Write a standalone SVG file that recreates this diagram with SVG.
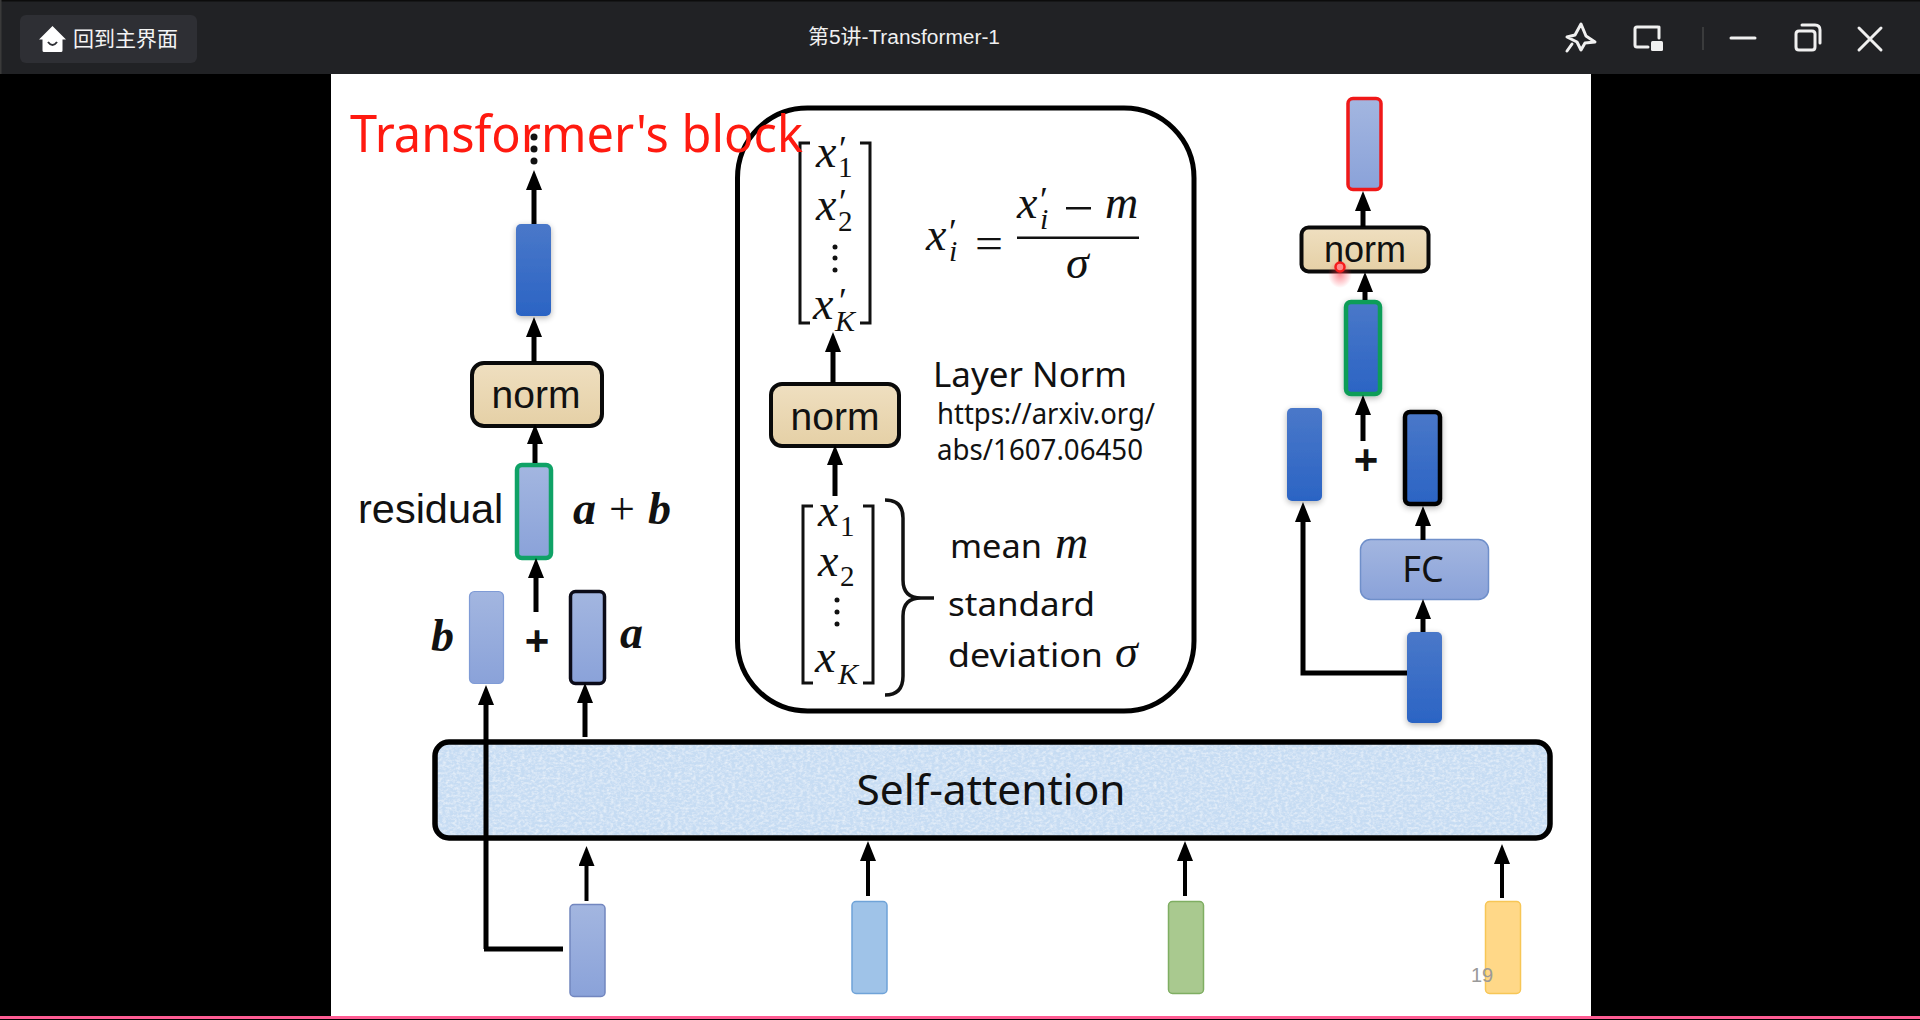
<svg xmlns="http://www.w3.org/2000/svg" width="1920" height="1020" viewBox="0 0 1920 1020">
<style>
.s{font-family:"Noto Sans","Open Sans","Liberation Sans",sans-serif;fill:#111}
.a{font-family:"Liberation Sans",Arial,sans-serif;fill:#111}
.m{font-family:"Liberation Serif",serif;font-style:italic;fill:#111;font-size:46px}
.p{font-family:"Liberation Serif",serif;fill:#111;font-size:36px}
.sub{font-family:"Liberation Serif",serif;fill:#111;font-size:29px}
.subi{font-family:"Liberation Serif",serif;font-style:italic;fill:#111;font-size:30px}
.bm{font-family:"Liberation Serif",serif;font-style:italic;font-weight:700;fill:#111;font-size:46px}
.ln{stroke:#000;stroke-width:5;fill:none}
.ar{stroke:#000;stroke-width:5;fill:none;marker-end:url(#h)}
.ar2{stroke:#000;stroke-width:4;fill:none;marker-end:url(#h)}
.br{stroke:#111;stroke-width:3;fill:none}
.ic{stroke:#f0f0f0;stroke-width:3;fill:none;stroke-linejoin:round;stroke-linecap:round}
.nm{fill:url(#tan);stroke:#0a0a0a;stroke-width:4}
.blue{fill:url(#gb);filter:url(#sh)}
.pale{fill:url(#gp)}
</style>
<defs>
<marker id="h" markerUnits="userSpaceOnUse" viewBox="0 0 20 16" markerWidth="20" markerHeight="16" refX="8" refY="8" orient="auto"><path d="M0 0L20 8L0 16Z" fill="#000"/></marker>
<linearGradient id="gb" x1="0" y1="0" x2="0" y2="1"><stop offset="0" stop-color="#4a78c9"/><stop offset="1" stop-color="#2b64c4"/></linearGradient>
<linearGradient id="gp" x1="0" y1="0" x2="0" y2="1"><stop offset="0" stop-color="#a3b6e0"/><stop offset="1" stop-color="#8aa2d9"/></linearGradient>
<linearGradient id="tan" x1="0" y1="0" x2="0" y2="1"><stop offset="0" stop-color="#efdfc0"/><stop offset="1" stop-color="#e5d0a6"/></linearGradient>
<filter id="sh" x="-30%" y="-10%" width="160%" height="125%"><feGaussianBlur in="SourceAlpha" stdDeviation="3"/><feOffset dy="2"/><feComponentTransfer><feFuncA type="linear" slope="0.3"/></feComponentTransfer><feMerge><feMergeNode/><feMergeNode in="SourceGraphic"/></feMerge></filter>
<filter id="tex" x="0" y="0" width="100%" height="100%"><feTurbulence type="fractalNoise" baseFrequency="0.28 0.4" numOctaves="3" seed="4"/><feColorMatrix values="0 0 0 0 1 0 0 0 0 1 0 0 0 0 1 1.1 0 0 0 -0.42"/><feComposite in2="SourceGraphic" operator="in"/><feMerge><feMergeNode in="SourceGraphic"/><feMergeNode/></feMerge></filter>
<radialGradient id="glow"><stop offset="0" stop-color="#ff3040" stop-opacity=".55"/><stop offset="1" stop-color="#ff3040" stop-opacity="0"/></radialGradient>
</defs>
<rect width="1920" height="1020" fill="#000"/>
<g id="titlebar">
<rect x="0" y="0" width="1920" height="74" fill="#212225"/>
<rect x="0" y="0" width="1920" height="1.5" fill="#0c0c0c"/>
<rect x="0" y="0" width="1.5" height="74" fill="#3a3a3a"/>
<rect x="20" y="15" width="177" height="48" rx="6" fill="#2e2f34"/>
<path d="M52.500 26L66 39.500H62.500V50.500Q62.500 52 61 52H44Q42.500 52 42.500 50.500V39.500H39Z" fill="#fff"/>
<path d="M48 42Q52.500 48 57 42" fill="none" stroke="#2e2f34" stroke-width="2"/>
<text x="73" y="46" font-size="21" fill="#f4f4f4" font-family="'Noto Sans CJK SC',sans-serif">回到主界面</text>
<text x="808" y="44" font-size="20" fill="#f0f0f0" font-family="'Liberation Sans','Noto Sans CJK SC',sans-serif" textLength="192" lengthAdjust="spacingAndGlyphs">第5讲-Transformer-1</text>
<path class="ic" d="M1581 24L1586 36L1595 42L1585 43L1581 50L1577 42L1567 37L1575 35Z M1572 44L1567 51"/>
<path class="ic" d="M1658 27H1637Q1635 27 1635 29V45Q1635 47 1637 47H1648 M1659 27V38"/>
<rect x="1651" y="41" width="12" height="10" rx="1.500" fill="#f0f0f0"/>
<rect x="1702.500" y="27" width="1" height="23" fill="#555"/>
<path class="ic" d="M1731 38H1755"/>
<path class="ic" d="M1799 31H1812Q1815 31 1815 34V47Q1815 50 1812 50H1799Q1796 50 1796 47V34Q1796 31 1799 31Z M1802 25H1815Q1820 25 1820 30V43"/>
<path class="ic" d="M1859 28L1881 50M1881 28L1859 50"/>
</g>
<rect id="slide" x="331" y="74" width="1260" height="942" fill="#fff"/>
<g id="panel">
<rect x="737.500" y="108" width="456.500" height="603" rx="70" fill="#fff" stroke="#000" stroke-width="5"/>
</g>
<g id="attention">
<rect x="435" y="742" width="1115" height="96" rx="14" fill="#c6dcf3" filter="url(#tex)"/>
<rect x="435" y="742" width="1115" height="96" rx="14" fill="none" stroke="#000" stroke-width="5.500"/>
<text class="s" x="991" y="805" font-size="41" text-anchor="middle" textLength="269" lengthAdjust="spacingAndGlyphs">Self-attention</text>
</g>
<g id="left-column">
<g id="left-output"><rect class="blue" x="516" y="224" width="35" height="92" rx="5"/></g>
<g id="left-norm"><rect class="nm" x="472" y="363" width="130" height="63" rx="12"/><text class="a" x="536" y="408" font-size="39" text-anchor="middle">norm</text></g>
<g id="left-residual"><rect class="pale" x="517" y="465" width="34" height="93" rx="5" stroke="#0fa266" stroke-width="4.500"/></g>
<g id="left-b"><rect class="pale" x="469.500" y="591.500" width="34" height="92" rx="5" stroke="#7f9bd6" stroke-width="1.200"/></g>
<g id="left-a"><rect class="pale" x="570.500" y="591.500" width="34" height="92" rx="5" stroke="#0b0b18" stroke-width="3.500"/></g>
<text class="a" x="358" y="523" font-size="41.500">residual</text>
<text class="bm" x="573" y="524">a<tspan font-style="normal" font-weight="400" dx="13">+</tspan><tspan dx="13">b</tspan></text>
<text class="bm" x="431" y="651">b</text>
<text class="bm" x="620" y="648">a</text>
<text x="537" y="655" font-size="42" font-weight="700" text-anchor="middle" font-family="'Liberation Sans',sans-serif" fill="#111">+</text>
<circle cx="534" cy="137" r="3.500" fill="#111"/><circle cx="534" cy="149" r="3.500" fill="#111"/><circle cx="534" cy="161" r="3.500" fill="#111"/>
</g>
<g id="matrix-out">
<path class="br" d="M810 143H800V323H810M860 143H870V323H860"/>
<text class="m" x="816" y="167">x</text><text class="p" x="839" y="161">′</text><text class="sub" x="838" y="177">1</text>
<text class="m" x="816" y="220">x</text><text class="p" x="839" y="214">′</text><text class="sub" x="838" y="231">2</text>
<circle cx="835" cy="247" r="2.500" fill="#111"/><circle cx="835" cy="258" r="2.500" fill="#111"/><circle cx="835" cy="270" r="2.500" fill="#111"/>
<text class="m" x="813" y="319">x</text><text class="p" x="839" y="313">′</text><text class="subi" x="835" y="331">K</text>
</g>
<g id="panel-norm"><rect class="nm" x="771" y="384" width="128" height="62" rx="11"/><text class="a" x="835" y="430" font-size="39" text-anchor="middle">norm</text></g>
<g id="matrix-in">
<path class="br" d="M813 506H803V683H813M863 506H873V683H863"/>
<text class="m" x="818" y="526">x</text><text class="sub" x="840" y="536">1</text>
<text class="m" x="818" y="576">x</text><text class="sub" x="840" y="586">2</text>
<circle cx="837" cy="600" r="2.500" fill="#111"/><circle cx="837" cy="612" r="2.500" fill="#111"/><circle cx="837" cy="624" r="2.500" fill="#111"/>
<text class="m" x="815" y="672">x</text><text class="subi" x="838" y="684">K</text>
<path d="M885 500Q903 500 903 518V580Q903 598 921 598H934M921 598Q903 598 903 616V676Q903 695 885 695" fill="none" stroke="#111" stroke-width="3.500"/>
</g>
<g id="formula">
<text class="m" x="926" y="250">x</text><text class="p" x="949" y="244">′</text><text class="subi" x="949" y="261">i</text>
<text x="975" y="258" font-size="44" font-family="'Liberation Serif',serif" fill="#111" textLength="28" lengthAdjust="spacingAndGlyphs">=</text>
<text class="m" x="1017" y="218">x</text><text class="p" x="1040" y="212">′</text><text class="subi" x="1040" y="229">i</text>
<rect x="1066" y="207" width="25" height="2.500" fill="#111"/>
<text class="m" x="1105" y="218">m</text>
<rect x="1017" y="236.500" width="122" height="2.500" fill="#111"/>
<text class="m" x="1066" y="278">σ</text>
</g>
<g id="panel-text">
<text class="s" x="933" y="387" font-size="35" textLength="194" lengthAdjust="spacingAndGlyphs">Layer Norm</text>
<text class="s" x="937" y="424" font-size="29" textLength="218" lengthAdjust="spacingAndGlyphs">https://arxiv.org/</text>
<text class="s" x="937" y="460" font-size="29" textLength="206" lengthAdjust="spacingAndGlyphs">abs/1607.06450</text>
<text class="s" x="950" y="558" font-size="33" textLength="92" lengthAdjust="spacingAndGlyphs">mean</text>
<text class="m" x="1055" y="558">m</text>
<text class="s" x="948" y="616" font-size="33" textLength="147" lengthAdjust="spacingAndGlyphs">standard</text>
<text class="s" x="948" y="667" font-size="33" textLength="155" lengthAdjust="spacingAndGlyphs">deviation</text>
<text class="m" x="1115" y="667">σ</text>
</g>
<g id="right-column">
<g id="right-output"><rect class="pale" x="1348" y="98.500" width="33" height="91" rx="5" stroke="#f01818" stroke-width="3.500"/></g>
<g id="right-norm"><rect class="nm" x="1301.500" y="227.500" width="127" height="44" rx="7"/><text class="a" x="1365" y="262" font-size="36" text-anchor="middle">norm</text></g>
<g id="right-sum"><rect class="blue" x="1346" y="302" width="34" height="92" rx="5" stroke="#0f9d58" stroke-width="4.500"/></g>
<g id="right-b"><rect class="blue" x="1287" y="408" width="35" height="93" rx="5"/></g>
<g id="right-a"><rect class="blue" x="1405" y="412" width="35" height="92" rx="5" stroke="#000" stroke-width="4.500"/></g>
<g id="right-fc"><rect class="pale" x="1360.500" y="539.500" width="128" height="60" rx="10" stroke="#6f8fca" stroke-width="1.500"/><text class="s" x="1423" y="582" font-size="36" text-anchor="middle">FC</text></g>
<g id="right-input"><rect class="blue" x="1407" y="632" width="35" height="91" rx="5"/></g>
<text x="1366" y="474" font-size="42" font-weight="700" text-anchor="middle" font-family="'Liberation Sans',sans-serif" fill="#111">+</text>
</g>
<g id="inputs">
<g id="input-1"><rect x="570" y="904.500" width="35" height="92" rx="4" fill="url(#gp)" stroke="#7286bf" stroke-width="1.500"/></g>
<g id="input-2"><rect x="852" y="901.500" width="35" height="92" rx="4" fill="#9fc3e8" stroke="#6fa3d8" stroke-width="1.500"/></g>
<g id="input-3"><rect x="1168.500" y="901.500" width="35" height="92" rx="4" fill="#a9c98f" stroke="#7fae62" stroke-width="1.500"/></g>
<g id="input-4"><rect x="1485.500" y="901.500" width="35" height="92" rx="4" fill="#ffd888" stroke="#f7c656" stroke-width="1.500"/></g>
</g>
<g id="connectors">
<path class="ar" d="M534 224V182"/>
<path class="ar" d="M534 362V329"/>
<path class="ar" d="M535 463V436"/>
<path class="ar" d="M536 612V570"/>
<path class="ar" d="M486 949V697"/>
<path class="ln" d="M484 949H563"/>
<path class="ar" d="M585 737V695"/>
<path class="ar" d="M833 383V344"/>
<path class="ar" d="M835 496V457"/>
<path class="ar2" d="M586.500 901V858"/>
<path class="ar2" d="M868 896V853"/>
<path class="ar2" d="M1185 896V853"/>
<path class="ar2" d="M1502 898V856"/>
<path class="ar" d="M1363 227V203"/>
<path class="ar" d="M1365 300V284"/>
<path class="ar" d="M1363 441V407"/>
<path class="ar" d="M1423 540V518"/>
<path class="ar" d="M1423 632V611"/>
<path class="ar" d="M1407 673H1303V514"/>
</g>
<text x="1471" y="982" font-size="20" fill="#9a9a9a" font-family="'Liberation Sans',sans-serif">19</text>
<text x="350" y="152" font-size="51" fill="#ff1a10" font-family="'Noto Sans',sans-serif" textLength="453" lengthAdjust="spacingAndGlyphs">Transformer's block</text>
<g id="pointer">
<ellipse cx="1340" cy="274" rx="12" ry="14" fill="url(#glow)"/>
<circle cx="1340" cy="267" r="4.500" fill="#ff8a8a" stroke="#f51c1c" stroke-width="2.500"/>
</g>
<rect id="progress" x="0" y="1016" width="1920" height="3" fill="#ff5c93"/>
</svg>
